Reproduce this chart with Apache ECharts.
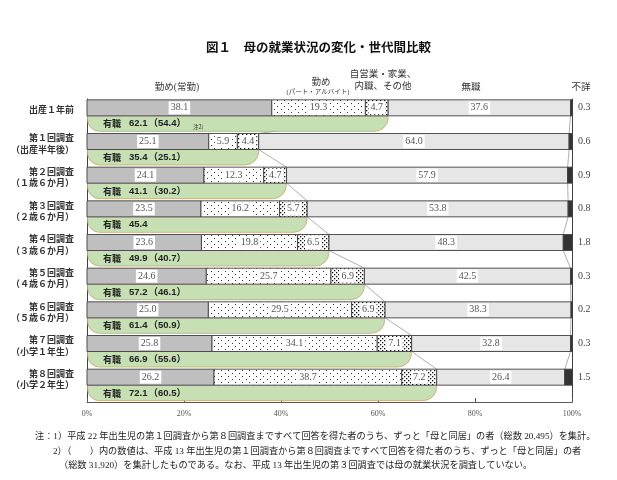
<!DOCTYPE html>
<html><head><meta charset="utf-8">
<script src="https://cdn.jsdelivr.net/npm/echarts@6/dist/echarts.min.js"></script>
<style>html,body{margin:0;padding:0;background:#fff}#c{width:617px;height:480px}</style>
</head><body><div id="c"></div>
<script>
// ---- data ----
const categories = ['出産１年前', '第１回調査\n（出産半年後）', '第２回調査\n（１歳６か月）', '第３回調査\n（２歳６か月）',
  '第４回調査\n（３歳６か月）', '第５回調査\n（４歳６か月）', '第６回調査\n（５歳６か月）', '第７回調査\n（小学１年生）', '第８回調査\n（小学２年生）'];
const joukin = [38.1, 25.1, 24.1, 23.5, 23.6, 24.6, 25.0, 25.8, 26.2];
const part = [19.3, 5.9, 12.3, 16.2, 19.8, 25.7, 29.5, 34.1, 38.7];
const jieigyo = [4.7, 4.4, 4.7, 5.7, 6.5, 6.9, 6.9, 7.1, 7.2];
const mushoku = [37.6, 64.0, 57.9, 53.8, 48.3, 42.5, 38.3, 32.8, 26.4];
const fusho = [0.3, 0.6, 0.9, 0.8, 1.8, 0.3, 0.2, 0.3, 1.5];
const yushoku = [62.1, 35.4, 41.1, 45.4, 49.9, 57.2, 61.4, 66.9, 72.1];
const yushokuH13 = ['54.4', '25.1', '30.2', '', '40.7', '46.1', '50.9', '55.6', '60.5'];
const xTickLabels = ['0%', '20%', '40%', '60%', '80%', '100%'];
const footnotes = [
  '注：1）平成 22 年出生児の第１回調査から第８回調査まですべて回答を得た者のうち、ずっと「母と同居」の者（総数 20,495）を集計。',
  '2）（　　）内の数値は、平成 13 年出生児の第１回調査から第８回調査まですべて回答を得た者のうち、ずっと「母と同居」の者',
  '（総数 31,920）を集計したものである。なお、平成 13 年出生児の第３回調査では母の就業状況を調査していない。'
];

// ---- helpers ----
function rowVals(i) { return [joukin[i], part[i], jieigyo[i], mushoku[i], fusho[i]]; }
function cums(i) {
  const v = rowVals(i); const t = v.reduce((a, b) => a + b, 0);
  const out = [0]; let s = 0;
  v.forEach(x => { s += x * 100 / t; out.push(s); });
  return out;
}
function makeDots(w, h, pts, sz, col) {
  const cv = document.createElement('canvas'); cv.width = w; cv.height = h;
  const g = cv.getContext('2d'); g.fillStyle = '#fff'; g.fillRect(0, 0, w, h);
  g.fillStyle = col;
  pts.forEach(p => g.fillRect(p[0], p[1], sz, sz));
  return cv;
}
const patPart = { image: makeDots(7, 6, [[1, 1], [4, 4]], 1, '#333'), repeat: 'repeat' };
const patJiei = { image: makeDots(4, 4, [[0, 0], [2, 2]], 1.3, '#111'), repeat: 'repeat' };
const segFills = ['#bfbfbf', patPart, patJiei, '#e6e6e6', '#333333'];
const serifF = '"Liberation Serif", "Noto Sans CJK JP", serif';
const sansF = '"Noto Sans CJK JP", sans-serif';

function renderRow(params, api) {
  const i = params.dataIndex;
  const cs = cums(i);
  const yc = api.coord([0, i])[1];
  const barTop = yc - 16, barH = 16;
  const x0 = api.coord([0, i])[0];
  const children = [];
  // category label
  children.push({
    type: 'text', style: {
      text: categories[i], x: x0 - 13, y: yc - 6, align: 'right', verticalAlign: 'middle',
      font: 'bold 9px ' + sansF, fill: '#333', lineHeight: 11.5
    }
  });
  // pill (有職)
  const xw = api.coord([yushoku[i], i])[0];
  children.push({
    type: 'rect', shape: { x: x0 + 0.5, y: yc, width: xw - x0 - 0.5, height: 15.5, r: [0, 2, 15, 12] },
    style: { fill: '#c6e0b4', stroke: '#c9a27c', lineWidth: 0.8 }
  });
  let t = '{k|有職}{v|' + yushoku[i].toFixed(1) + '}';
  if (yushokuH13[i]) t += '{v|（' + yushokuH13[i] + '）}';
  if (i === 0) t += '{n|注2)}';
  children.push({
    type: 'text', style: {
      text: t, x: x0 + 16, y: yc + 8, verticalAlign: 'middle', align: 'left',
      rich: {
        k: { font: 'bold 9px ' + sansF, fill: '#222', padding: [0, 8, 0, 0] },
        v: { font: 'bold 9.5px "Liberation Sans", ' + sansF, fill: '#222', padding: [0, 1, 0, 0] },
        n: { font: '5.5px ' + sansF, fill: '#333', padding: [6, 0, 0, 6] }
      }
    }
  });
  // segments
  for (let k = 0; k < 5; k++) {
    const xa = api.coord([cs[k], i])[0], xb = api.coord([cs[k + 1], i])[0];
    children.push({
      type: 'rect', shape: { x: xa, y: barTop, width: xb - xa, height: barH },
      style: { fill: segFills[k], stroke: '#404040', lineWidth: 0.9 }
    });
  }
  const vals = rowVals(i);
  for (let k = 0; k < 4; k++) {
    const xm = api.coord([(cs[k] + cs[k + 1]) / 2, i])[0];
    children.push({
      type: 'text', style: {
        text: vals[k].toFixed(1), x: xm, y: barTop + barH / 2, align: 'center', verticalAlign: 'middle',
        font: '10px ' + serifF, fill: '#555', backgroundColor: '#fff', padding: [2, 2, 1, 2]
      }
    });
  }
  children.push({
    type: 'text', style: {
      text: vals[4].toFixed(1), x: api.coord([100, i])[0] + 6, y: barTop + barH / 2, align: 'left', verticalAlign: 'middle',
      font: '10px ' + serifF, fill: '#444'
    }
  });
  return { type: 'group', children: children };
}

function renderLinks(params, api) {
  const i = params.dataIndex;
  if (i >= categories.length - 1) return null;
  const a = cums(i), b = cums(i + 1);
  const y1 = api.coord([0, i])[1], y2 = api.coord([0, i + 1])[1] - 16;
  const st = { stroke: '#9a9a9a', lineWidth: 0.8 };
  return {
    type: 'group', children: [
      { type: 'line', shape: { x1: api.coord([a[3], i])[0], y1: y1, x2: api.coord([b[3], i])[0], y2: y2 }, style: st },
      { type: 'line', shape: { x1: api.coord([a[4], i])[0], y1: y1, x2: api.coord([b[4], i])[0], y2: y2 }, style: st }
    ]
  };
}

const chart = echarts.init(document.getElementById('c'), null, { renderer: 'canvas' });
const hdr = (txt, x, y, size) => ({ type: 'text', x: x, y: y, style: { text: txt, font: size + 'px ' + serifF, fill: '#333', align: 'center', verticalAlign: 'middle' } });
chart.setOption({
  animation: false,
  backgroundColor: '#fff',
  title: { text: '図１　母の就業状況の変化・世代間比較', left: 201, top: 36, textStyle: { fontFamily: sansF, fontSize: 12.5, fontWeight: 'bold', color: '#111' } },
  grid: { left: 87, right: 45, top: 99, bottom: 78 },
  xAxis: {
    type: 'value', min: 0, max: 100, interval: 20,
    axisLine: { show: true, lineStyle: { color: '#595959', width: 1 } },
    axisTick: { show: true, inside: true, length: 4, lineStyle: { color: '#595959' } },
    splitLine: { show: false },
    axisLabel: { formatter: (v) => xTickLabels[Math.round(v / 20)], fontFamily: serifF, fontSize: 8, color: '#555', margin: 8 }
  },
  yAxis: [{
    type: 'category', inverse: true, data: categories,
    axisLine: { show: true, lineStyle: { color: '#404040' } }, axisTick: { show: false }, axisLabel: { show: false }
  }, {
    type: 'category', inverse: true, data: categories, position: 'right',
    axisLine: { show: true, lineStyle: { color: '#404040' } }, axisTick: { show: false }, axisLabel: { show: false }
  }],
  graphic: [
    hdr('勤め(常勤)', 177, 87, 9.5),
    hdr('勤め', 321, 82, 9.5),
    hdr('(パート・アルバイト)', 318, 92, 6.5),
    hdr('自営業・家業、', 383, 74, 9.5),
    hdr('内職、その他', 383, 86, 9.5),
    hdr('無職', 471, 87, 9.5),
    hdr('不詳', 581, 87, 9.5),
    { type: 'text', x: 35, y: 437, style: { text: footnotes[0], font: '9.2px ' + serifF, fill: '#222', verticalAlign: 'middle' } },
    { type: 'text', x: 53, y: 452, style: { text: footnotes[1], font: '9.2px ' + serifF, fill: '#222', verticalAlign: 'middle' } },
    { type: 'text', x: 59, y: 466, style: { text: footnotes[2], font: '9.2px ' + serifF, fill: '#222', verticalAlign: 'middle' } }
  ],
  series: [
    { type: 'custom', name: 'links', z: 1, renderItem: renderLinks, data: categories.map((c, i) => [i]), encode: { y: 0 }, silent: true },
    { type: 'custom', name: 'bars', z: 2, renderItem: renderRow, data: categories.map((c, i) => [yushoku[i], i]), encode: { x: 0, y: 1 }, silent: true }
  ]
});
</script></body></html>
